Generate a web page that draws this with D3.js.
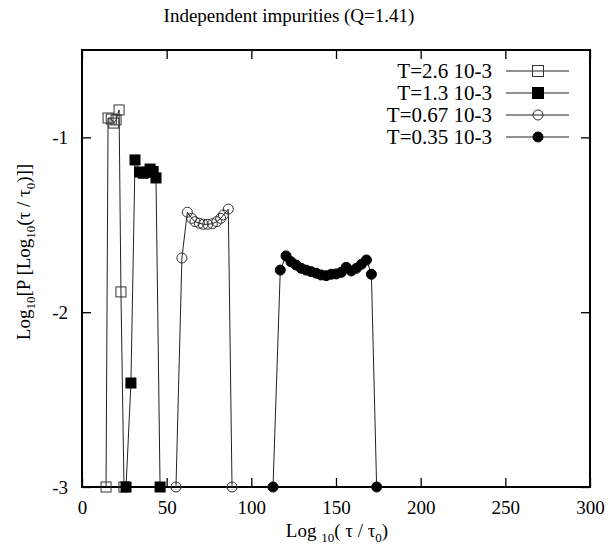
<!DOCTYPE html>
<html>
<head>
<meta charset="utf-8">
<script src="https://cdnjs.cloudflare.com/ajax/libs/d3/7.8.5/d3.min.js"></script>
<style>
  body { margin: 0; background: #fff; }
  text { font-family: "Liberation Serif", "Times New Roman", serif; }
</style>
</head>
<body>
<div id="chart"></div>
<script>
// T=2.6 10-3 (open squares)
var xSq1 = [14.2, 15.4, 17.3, 18.8, 20.1, 21.9, 23.0, 24.8]
var ySq1 = [-3, -0.889, -0.895, -0.918, -0.900, -0.843, -1.884, -3]
// T=1.3 10-3 (filled squares)
var xSq2 = [26.0, 28.9, 31.3, 34.0, 36.2, 38.4, 40.2, 42.0, 43.7, 46.1]
var ySq2 = [-3, -2.405, -1.129, -1.198, -1.205, -1.200, -1.181, -1.195, -1.232, -3]
// T=0.67 10-3 (open circles)
var xCi1 = [55.5, 59.0, 62.2, 64.8, 66.7, 69.3, 71.6, 74.2, 77.0, 79.6, 81.9, 83.5, 86.4, 88.6]
var yCi1 = [-3, -1.69, -1.428, -1.463, -1.482, -1.491, -1.497, -1.497, -1.494, -1.482, -1.463, -1.444, -1.41, -3]
// T=0.35 10-3 (filled circles)
var xCi2 = [112.8, 117.1, 120.5, 123.4, 126.4, 129.4, 132.3, 135.3, 138.3, 141.2, 144.2, 147.2, 150.1, 153.1, 156.0, 159.0, 162.0, 165.0, 168.0, 170.9, 174.0]
var yCi2 = [-3, -1.759, -1.678, -1.711, -1.730, -1.749, -1.759, -1.768, -1.777, -1.787, -1.791, -1.783, -1.781, -1.772, -1.743, -1.764, -1.749, -1.726, -1.701, -1.783, -3]

var legendLabels = ["T=2.6 10-3", "T=1.3 10-3", "T=0.67 10-3", "T=0.35 10-3"]
var xTicks = [0, 50, 100, 150, 200, 250, 300]
var yTicks = [-1, -2, -3]

var margin = {top: 50, right: 23, bottom: 63, left: 82},
    width = 613 - margin.left - margin.right,
    height = 550 - margin.top - margin.bottom;

var svg = d3.select("#chart")
  .append("svg")
    .attr("width", 613)
    .attr("height", 550)
  .append("g")
    .attr("transform", "translate(" + margin.left + "," + margin.top + ")");

var x = d3.scaleLinear().domain([0, 300]).range([0, width])
var y = d3.scaleLinear().domain([-3, -0.5]).range([height, 0])

// ticks inward on all four sides
svg.append("g")
  .attr("transform", "translate(0," + height + ")")
  .call(d3.axisBottom(x).tickValues(xTicks).tickSizeInner(-9).tickSizeOuter(0).tickPadding(14))
svg.append("g")
  .call(d3.axisTop(x).tickValues(xTicks).tickSizeInner(-9).tickSizeOuter(0).tickFormat(""))
svg.append("g")
  .call(d3.axisLeft(y).tickValues(yTicks).tickSizeInner(-9).tickSizeOuter(0).tickPadding(14).tickFormat(String))
svg.append("g")
  .attr("transform", "translate(" + width + ",0)")
  .call(d3.axisRight(y).tickValues(yTicks).tickSizeInner(-9).tickSizeOuter(0).tickFormat(""))

svg.selectAll(".domain").remove()
svg.selectAll(".tick line").attr("stroke", "#000").attr("stroke-width", 1.3)
svg.selectAll(".tick text")
  .style("font-size", "19px")
  .style("font-family", "Liberation Serif, serif")
  .attr("fill", "#000")

svg.append("rect")
  .attr("x", 0).attr("y", 0)
  .attr("width", width).attr("height", height)
  .attr("fill", "none").attr("stroke", "#000").attr("stroke-width", 2)

var series = [
  {xs: xSq1, ys: ySq1, shape: "square", fill: "none"},
  {xs: xSq2, ys: ySq2, shape: "square", fill: "#000"},
  {xs: xCi1, ys: yCi1, shape: "circle", fill: "none"},
  {xs: xCi2, ys: yCi2, shape: "circle", fill: "#000"}
]

var line = d3.line()
  .x(function(d) { return x(d[0]) })
  .y(function(d) { return y(d[1]) })

function drawMarker(g, shape, fill, cx, cy, s) {
  if (shape == "square") {
    g.append("rect")
      .attr("x", cx - s / 2).attr("y", cy - s / 2)
      .attr("width", s).attr("height", s)
      .attr("fill", fill)
      .attr("stroke", fill == "none" ? "#333" : "#000")
      .attr("stroke-width", 1)
  } else {
    g.append("circle")
      .attr("cx", cx).attr("cy", cy).attr("r", s / 2)
      .attr("fill", fill)
      .attr("stroke", fill == "none" ? "#333" : "#000")
      .attr("stroke-width", 1)
  }
}

series.forEach(function(s) {
  var pts = s.xs.map(function(v, i) { return [v, s.ys[i]] })
  svg.append("path")
    .datum(pts)
    .attr("fill", "none")
    .attr("stroke", "#222")
    .attr("stroke-width", 1)
    .attr("d", line)
  var g = svg.append("g")
  pts.forEach(function(p) {
    drawMarker(g, s.shape, s.fill, x(p[0]), y(p[1]), 10)
  })
})

// legend
var lg = svg.append("g")
legendLabels.forEach(function(lab, i) {
  var ly = 21 + i * 22
  lg.append("text")
    .attr("x", 410).attr("y", ly)
    .attr("dy", "0.35em")
    .attr("text-anchor", "end")
    .style("font-size", "21px")
    .text(lab)
  lg.append("line")
    .attr("x1", 424).attr("x2", 487)
    .attr("y1", ly).attr("y2", ly)
    .attr("stroke", "#222").attr("stroke-width", 1)
  drawMarker(lg, series[i].shape, series[i].fill, 456, ly, series[i].shape == "square" ? 11 : 10)
})

// title
d3.select("svg").append("text")
  .attr("x", 289).attr("y", 22)
  .attr("text-anchor", "middle")
  .style("font-size", "19px")
  .text("Independent impurities (Q=1.41)")

// x label
var xl = d3.select("svg").append("text")
  .attr("x", 337).attr("y", 537)
  .attr("text-anchor", "middle")
  .style("font-size", "19px")
xl.append("tspan").text("Log ")
xl.append("tspan").attr("dy", 5).style("font-size", "13px").text("10")
xl.append("tspan").attr("dy", -5).text("( \u03c4 / \u03c4")
xl.append("tspan").attr("dy", 5).style("font-size", "13px").text("0")
xl.append("tspan").attr("dy", -5).text(")")

// y label
var yl = d3.select("svg").append("text")
  .attr("transform", "translate(30,252) rotate(-90)")
  .attr("text-anchor", "middle")
  .style("font-size", "19px")
yl.append("tspan").text("Log")
yl.append("tspan").attr("dy", 5).style("font-size", "13px").text("10")
yl.append("tspan").attr("dy", -5).text("[P [Log")
yl.append("tspan").attr("dy", 5).style("font-size", "13px").text("10")
yl.append("tspan").attr("dy", -5).text("(\u03c4 / \u03c4")
yl.append("tspan").attr("dy", 5).style("font-size", "13px").text("0")
yl.append("tspan").attr("dy", -5).text(")]]")
</script>
</body>
</html>
